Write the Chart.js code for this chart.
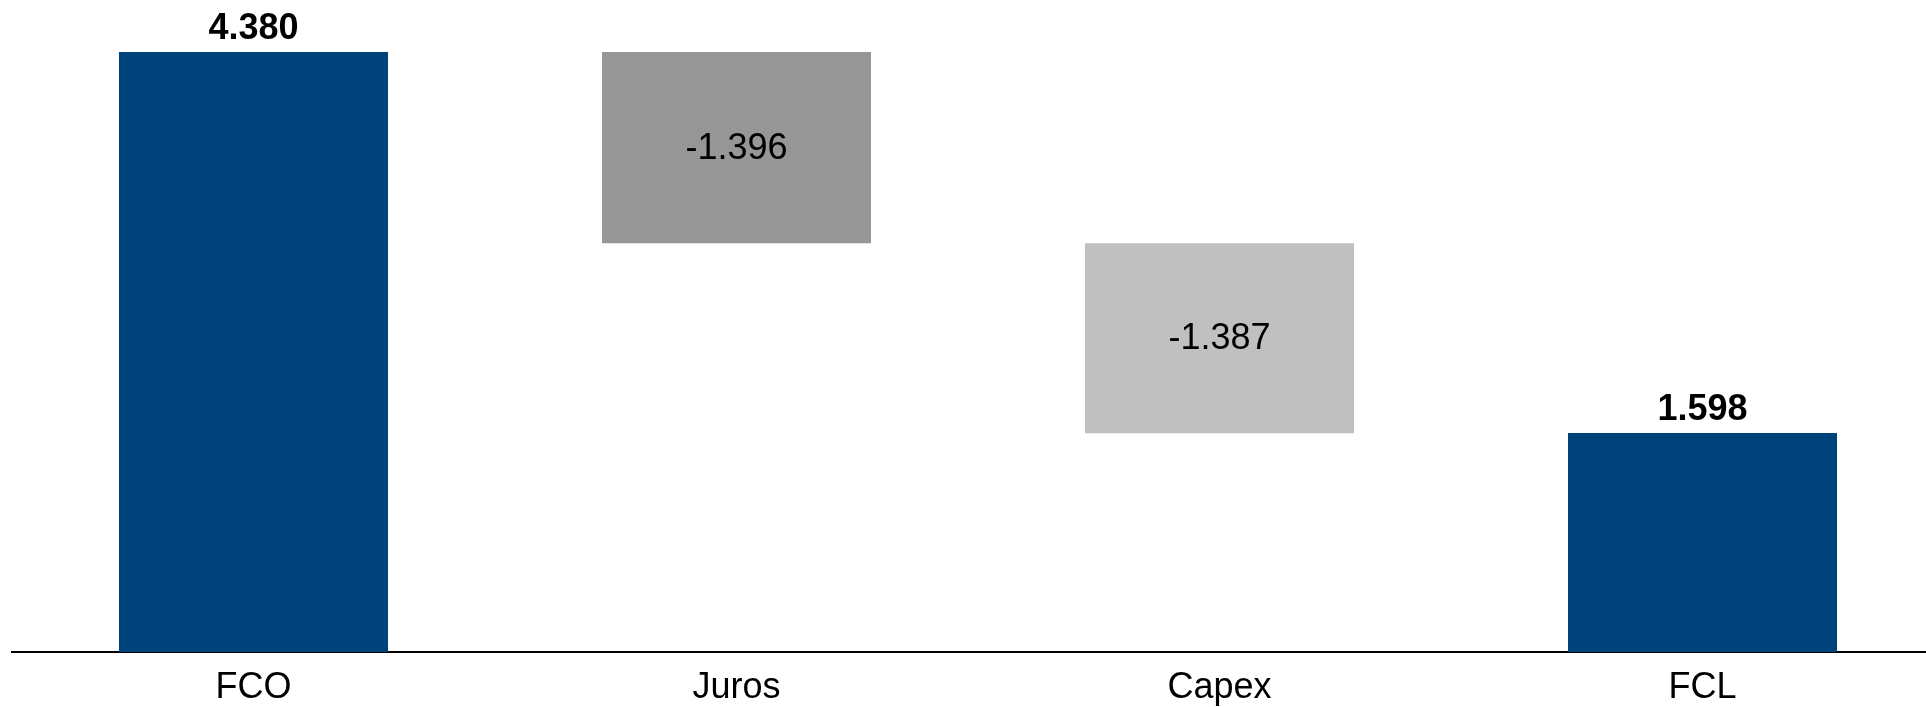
<!DOCTYPE html>
<html>
<head>
<meta charset="utf-8">
<script src="https://cdn.jsdelivr.net/npm/chart.js@4.4.1/dist/chart.umd.min.js"></script>
<style>
  html, body { margin: 0; padding: 0; background: #fff; }
  #wrap { width: 1926px; height: 707px; overflow: hidden; position: relative; }
  canvas { display: block; }
</style>
</head>
<body>
<div id="wrap"><canvas id="chart" width="1944" height="707"></canvas></div>
<script>
const categories = ['FCO', 'Juros', 'Capex', 'FCL'];
const values = [4380, -1396, -1387, 1598];
const isTotal = [true, false, false, true];
const barColors = ['#00437a', '#969696', '#c0c0c0', '#00437a'];

// floating ranges for the waterfall
let running = 0;
const ranges = values.map((v, i) => {
  if (isTotal[i]) { running = v; return [0, v]; }
  const start = running;
  running = running + v;
  return [running, start];
});

function fmt(v) {
  const s = Math.abs(v).toString().replace(/\B(?=(\d{3})+(?!\d))/g, '.');
  return (v < 0 ? '-' : '') + s;
}

const labelPlugin = {
  id: 'waterfallLabels',
  afterDatasetsDraw(chart) {
    const ctx = chart.ctx;
    const meta = chart.getDatasetMeta(0);
    ctx.save();
    ctx.fillStyle = '#000';
    ctx.textAlign = 'center';
    meta.data.forEach((bar, i) => {
      const top = Math.min(bar.y, bar.base);
      const bottom = Math.max(bar.y, bar.base);
      if (isTotal[i]) {
        ctx.font = 'bold 36px "Liberation Sans", Arial, sans-serif';
        ctx.textBaseline = 'alphabetic';
        ctx.fillText(fmt(values[i]), bar.x, top - 13);
      } else {
        ctx.font = '36px "Liberation Sans", Arial, sans-serif';
        ctx.textBaseline = 'middle';
        ctx.fillText(fmt(values[i]), bar.x, (top + bottom) / 2 + 1);
      }
    });
    ctx.restore();
  }
};

new Chart(document.getElementById('chart'), {
  type: 'bar',
  data: {
    labels: categories,
    datasets: [{
      data: ranges,
      backgroundColor: barColors,
      borderWidth: 0,
      barPercentage: 0.557,
      categoryPercentage: 1.0
    }]
  },
  options: {
    responsive: false,
    animation: false,
    layout: { padding: { left: 12, top: 0, right: 0, bottom: 0 } },
    plugins: { legend: { display: false }, tooltip: { enabled: false } },
    scales: {
      x: {
        grid: { display: false, drawTicks: false },
        border: { display: true, color: '#000', width: 2 },
        ticks: {
          color: '#000',
          padding: 14,
          font: { family: '"Liberation Sans", Arial, sans-serif', size: 36 }
        },
        afterFit(scale) { scale.height = 55; }
      },
      y: {
        display: false,
        min: 0,
        max: 4760
      }
    }
  },
  plugins: [labelPlugin]
});
</script>
</body>
</html>
